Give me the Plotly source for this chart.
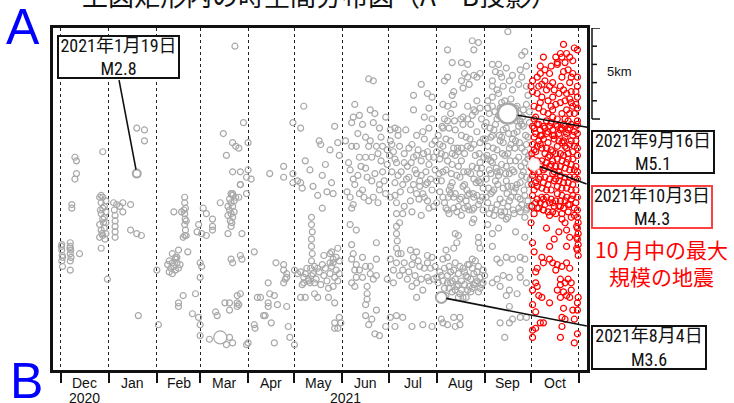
import plotly.graph_objects as go

# ---- axis data (x = days since 2020-12-01, y = km from A along A-B) ----
month_starts = [0, 31, 62, 90, 121, 151, 182, 212, 243, 274, 304, 335]
month_labels = ["Dec", "Jan", "Feb", "Mar", "Apr", "May", "Jun", "Jul", "Aug", "Sep", "Oct"]
year_labels = ["2020", "2021"]
year_label_days = [15.5, 184.3]

# ---- grey events: Dec 2020 - Feb 2021 ----
gray_dec_feb = [
    (0.5, 11.9), (0.5, 12.2), (0.8, 12.5), (0.5, 12.8), (1, 13.1), (0.3, 12.0), (1, 12.6),
    (6, 11.8), (6, 12.0), (6.3, 12.2), (6, 12.4), (6.5, 12.6), (6, 12.8), (5.8, 12.1), (12, 12.4), (6, 13.3),
    (9, 7.1), (10, 7.3), (10, 8.0), (9, 8.3), (7, 9.7), (7, 9.9), (27, 6.8),
    (25, 9.3), (26, 9.6), (27, 9.9), (26, 10.2), (27, 10.5), (25, 10.8), (26, 11.1), (27, 11.4),
    (28, 9.8), (28, 10.4), (28, 11.0), (29, 9.5), (29, 10.1), (29, 10.7), (25.5, 10.0), (27.5, 10.7),
    (26.5, 11.3), (28.5, 11.6), (26, 9.2), (29, 11.3), (25, 11.5), (26, 12.1), (27, 9.3),
    (49, 5.5), (54, 5.6), (54, 6.2),
    (35, 10.3), (35, 10.6), (35, 10.9), (35, 11.2), (35, 11.5), (34.5, 10.0), (34, 9.6), (36, 9.7),
    (40, 9.6), (45, 9.7), (40, 10.1), (38, 9.8), (45, 11.1), (49, 11.3), (52, 11.4), (30, 13.8), (50, 15.8),
    (62, 13.3), (63, 16.3),
    (69, 13.0), (70, 12.8), (71, 13.2), (72, 12.9), (73, 13.1), (74, 13.3), (75, 12.9), (76, 13.2),
    (77, 13.0), (70, 13.4), (72, 13.5), (74, 12.7), (72, 12.4), (74, 12.6), (76, 12.2), (75, 12.6), (82, 12.3),
    (80, 9.3), (80, 9.6), (80.5, 9.9), (80, 10.2), (80.3, 10.5), (80, 10.8), (80.5, 11.1), (80, 11.4),
    (79.5, 10.0), (81, 10.6), (73, 10.1), (78, 10.1), (79, 11.5), (81, 11.4),
    (79, 14.7), (76, 15.1), (76, 15.3), (85, 15.7), (87, 14.6),
]

# ---- grey events: Mar - May 2021 ----
gray_mar_may = [
    (90, 12.9), (91, 13.1), (90, 13.7), (89, 15.9), (90, 16.3), (90, 16.9),
    (92, 9.9), (94, 10.2), (89, 10.8), (88, 11.2), (91, 11.3), (94, 11.4), (98, 11.1), (98, 10.9), (98, 10.5),
    (109, 9.4), (110, 9.6), (111, 9.8), (109, 10.0), (110, 10.2), (111, 10.4), (109.5, 10.6), (110.5, 10.7),
    (112, 9.5), (112, 10.1), (108, 9.8), (108, 10.3), (111, 9.2), (110, 10.9), (103, 9.6), (111, 9.1),
    (116, 8.6), (108, 11.3), (117, 11.3),
    (110, 12.7), (111, 12.9), (116, 12.5), (117, 12.7),
    (100, 15.6), (101, 15.8), (106, 15.1), (109, 15.1), (114, 15.1), (114, 14.7), (116, 14.6), (114, 15.3),
    (115, 15.2), (109, 15.5),
    (96, 17.1), (109, 17.0), (111, 17.3), (107, 17.4), (120, 17.4), (121, 17.3),
    (112.5, 1.0), (118, 5.2), (105, 5.8), (111, 6.3), (113, 6.5), (115, 6.6), (121, 6.3), (107, 7.0),
    (111, 7.9), (116, 7.9), (121, 7.8), (120, 8.2), (123, 8.3), (116, 8.6), (110, 9.1), (113, 9.3),
    (115, 9.3), (120, 9.1),
    (135, 8.0), (144, 7.6), (144, 8.2), (150, 8.0), (150, 8.5), (150, 5.2),
    (125, 16.3), (125.5, 16.5), (127, 14.8), (129, 14.8), (131, 15.8), (132, 15.8), (134, 15.3), (134, 15.1),
    (135, 14.6), (138, 14.7), (136, 16.2), (138, 17.3), (146, 15.3), (140, 15.2), (139, 12.9), (144, 13.0),
    (144, 13.3), (146, 13.5), (134, 14.0), (144, 14.0), (147, 16.4), (125, 12.3), (145, 13.8), (146, 13.7),
    (148, 17.0), (151, 17.4),
    (157, 4.3), (155, 5.5), (167, 6.2), (168, 6.4), (177, 5.4), (179, 6.3), (175, 8.5), (172, 9.0),
    (176, 9.1), (163, 8.7), (166, 9.2), (155, 8.5), (156, 8.8), (153, 8.4), (169, 8.1), (169, 9.9),
    (158, 7.3), (161, 7.8), (171, 7.5), (180, 7.0), (174, 6.7),
    (162, 10.4), (162, 10.8), (162.5, 11.2), (162, 11.6), (162, 12.0), (162.5, 12.4), (162, 12.8),
    (161.5, 13.2), (162, 13.6),
    (155, 13.4), (157, 13.7), (159, 13.2), (160, 13.9), (163, 13.5), (164, 13.1), (165, 13.8), (167, 13.4),
    (168, 14.1), (170, 13.6), (171, 13.2), (172, 13.9), (174, 13.5), (175, 13.1), (176, 14.2), (177, 13.7),
    (178, 13.3), (179, 13.9), (180, 13.5), (156, 14.1), (158, 13.5), (161, 14.0), (166, 13.2), (169, 13.0),
    (173, 14.3), (176, 12.9), (178, 12.6), (180, 12.8), (170, 12.5), (175, 12.3),
    (151, 13.3), (153, 13.5), (157, 14.0), (160, 13.8), (164, 14.0),
    (155, 14.8), (158, 14.8), (164, 14.6), (166, 14.8), (173, 14.8), (177, 15.1),
    (174, 12.4), (179, 12.1), (174, 12.9), (176, 12.7),
    (177, 16.2), (177, 16.5), (180, 15.9), (181, 16.2), (179, 16.5),
]

# ---- grey events: Jun - Jul 2021 ----
gray_jun_jul = [
    (199, 2.8), (202, 2.9), (190, 4.2), (189, 4.9), (193, 4.8), (188, 5.2), (200, 4.5), (203, 4.7),
    (202, 5.2), (206, 5.5), (210, 4.9), (197, 6.0), (199, 6.5), (204, 6.5), (208, 6.5), (188, 6.5),
    (191, 6.5), (193, 7.1), (197, 7.1), (201, 7.1), (205, 6.9), (207, 7.3), (213, 5.6), (216, 5.5), (218, 5.6),
    (187, 9.3), (189, 9.7), (188, 9.9), (193, 9.1), (199, 9.5), (202, 9.3), (206, 8.9), (210, 9.1),
    (206, 8.6), (187, 7.8), (192, 8.1), (197, 7.7), (201, 8.4), (208, 7.9), (211, 7.5), (190, 8.6), (195, 8.9),
    (184, 6.2), (186, 7.4), (189, 8.3), (192, 5.8), (194, 7.6), (196, 9.3), (198, 8.2), (200, 6.2),
    (203, 8.0), (205, 9.6), (207, 6.0), (209, 8.4), (211, 6.7), (185, 9.0), (195, 5.3),
    (187, 10.8), (191, 11.1), (188, 11.9), (189, 12.4), (195, 12.6), (188, 12.7), (191, 13.0), (190, 13.3),
    (193, 13.3), (197, 13.1), (200, 13.1), (191, 13.7), (195, 13.7), (200, 13.5), (202, 13.8), (204, 13.6),
    (204, 12.7), (204, 11.8),
    (188, 14.0), (190, 14.2), (198, 14.2), (198, 14.6), (198, 14.9), (197, 15.2), (197, 15.8), (199, 16.3),
    (201, 16.0), (203, 16.8), (206, 16.9), (204, 15.5), (211, 13.8), (210, 16.4),
    (213, 15.9), (216, 16.4), (217, 15.8), (221, 15.9), (227, 16.4), (234, 16.3), (240, 16.4), (230, 14.8),
    (234, 14.4),
    (228, 12.6), (230, 12.3), (237, 12.5), (240, 12.6), (227, 13.0), (232, 13.1), (237, 12.9), (239, 13.2),
    (213, 12.7), (215, 13.3), (217, 12.9), (221, 13.3), (224, 13.8), (227, 14.2), (230, 14.0), (233, 13.8),
    (237, 13.7), (241, 13.8), (243, 13.7), (215, 14.0), (219, 13.6), (222, 12.9), (225, 13.4), (229, 13.6),
    (231, 12.8), (235, 13.2), (238, 13.9), (242, 13.1), (220, 12.4), (226, 12.2),
    (217, 10.9), (217, 11.3), (217.5, 11.7), (217, 12.1), (218, 12.4),
    (213, 9.3), (216, 9.2), (217, 9.6), (217, 10.2), (219, 10.7), (222, 9.8), (227, 10.1), (234, 9.1),
    (235, 9.3), (237, 9.5), (238, 9.9), (241, 9.8), (243, 9.6), (230, 9.1), (232, 8.7), (237, 8.5),
    (228, 4.5), (235, 4.9), (238, 4.4), (240, 5.0), (228, 3.7), (237, 3.6), (240, 3.8), (233, 3.1),
    (213, 6.2), (215, 6.8), (217, 7.4), (219, 6.5), (220, 7.9), (222, 6.9), (224, 7.6), (225, 8.2),
    (227, 6.4), (228, 7.1), (229, 7.8), (231, 6.7), (232, 8.4), (233, 7.3), (235, 6.1), (236, 7.9),
    (237, 6.8), (238, 7.5), (239, 8.3), (240, 6.4), (241, 7.1), (242, 7.8), (243, 6.8), (214, 7.9),
    (216, 8.5), (221, 8.6), (226, 8.9), (230, 8.0), (234, 5.7), (238, 5.5), (230, 5.9), (223, 5.6), (218, 5.9),
    (212.5, 7.0), (214, 6.4), (216, 7.2), (218, 8.1), (219.5, 9.0), (222, 7.4), (223.5, 8.3), (225, 6.6),
    (226.5, 7.4), (228, 8.6), (230, 7.0), (231.5, 9.4), (233, 8.1), (234.5, 6.9), (236, 8.6), (238, 7.1),
    (240, 8.9), (242, 6.2), (243, 8.4), (226, 9.5), (221, 10.2), (233, 10.3),
]

# ---- grey events: Aug 2021 ----
gray_aug = [
    (266, 0.7), (270, 0.8), (267, 1.2), (250, 1.2), (253, 1.9), (259, 1.9), (263, 2.0), (261, 2.5),
    (267, 2.6), (263, 2.7), (269, 2.7), (271, 2.5), (259, 2.9), (264, 3.1), (260, 3.3), (250, 2.7),
    (248, 2.9), (254, 3.5), (253, 3.7), (263, 4.3), (267, 4.5), (271, 4.4), (269, 4.0), (254, 4.2),
    (247, 4.2), (250, 4.3),
    (244, 5.9), (245, 7.2), (246, 8.4), (247, 6.5), (248, 9.6), (249, 7.8), (250, 5.1), (251, 8.9),
    (252, 6.2), (253, 7.5), (254, 9.9), (255, 5.6), (256, 8.1), (257, 6.8), (258, 9.4), (259, 7.3),
    (260, 5.3), (261, 8.6), (262, 6.0), (263, 7.9), (264, 9.1), (265, 6.6), (266, 4.8), (267, 8.3),
    (268, 7.0), (269, 5.7), (270, 9.7), (271, 6.3), (272, 7.7), (273, 8.8), (274, 5.4), (245, 9.0),
    (247, 7.9), (249, 6.1), (251, 5.5), (253, 8.5), (255, 7.0), (257, 9.8), (259, 5.9), (261, 6.9),
    (263, 5.0), (265, 8.0), (267, 6.4), (269, 9.2), (271, 7.4), (273, 6.1), (246, 6.9), (250, 7.3),
    (254, 6.6), (258, 8.2), (262, 9.5), (266, 7.6), (270, 8.4), (248, 5.0), (256, 10.1), (264, 10.0),
    (252, 4.7), (260, 4.9), (268, 4.6), (272, 5.0),
    (244.5, 8.0), (246.5, 5.4), (248.5, 7.0), (250.5, 9.3), (252.5, 8.0), (254.5, 5.1), (256.5, 6.6),
    (258.5, 5.0), (260.5, 7.9), (262.5, 8.9), (264.5, 6.1), (266.5, 9.1), (268.5, 8.5), (270.5, 6.9),
    (272.5, 9.3), (273.5, 7.1), (245, 6.4), (249, 9.9), (253, 6.9), (257, 7.6), (261, 9.9), (265, 5.3),
    (269, 7.7), (273, 10.0), (251, 10.2), (259, 10.3), (267, 9.9), (255, 9.1), (263, 6.5), (271, 8.0),
    (247, 5.5), (259, 6.6),
    (249, 12.2), (254, 12.1), (247, 12.7), (250, 12.6), (255, 11.3), (257, 11.4), (256, 11.8), (266, 10.7),
    (267, 10.5), (270, 11.5), (270, 11.8), (271, 12.1),
    (246, 16.0), (247, 16.2), (250, 16.3), (255, 16.4), (258, 16.3), (258, 15.9), (254, 15.9),
    (247, 9.3), (252, 9.1), (254, 9.3), (259, 9.3), (263, 9.2), (267, 9.3), (271, 9.5), (263, 9.8),
    (266, 10.0), (250, 10.0), (260, 8.7), (271, 8.5), (252, 8.7),
    (245, 13.4), (247, 13.9), (248, 14.3), (250, 13.6), (251, 13.1), (252, 14.0), (253, 14.5), (254, 13.3),
    (255, 13.8), (256, 14.2), (257, 13.5), (258, 14.6), (259, 13.9), (260, 13.2), (261, 14.1), (262, 13.6),
    (263, 14.4), (264, 13.0), (265, 13.8), (266, 14.3), (267, 13.5), (268, 14.0), (269, 13.4), (270, 14.5),
    (271, 13.7), (272, 14.1), (273, 13.3), (249, 14.7), (257, 14.8), (263, 13.0), (266, 12.7), (244, 14.0),
    (262, 14.8), (255, 12.9), (268, 12.8),
    (246, 13.6), (248, 13.2), (251, 14.3), (253, 13.9), (255, 14.4), (257, 14.1), (259, 14.4), (261, 13.4),
    (263, 13.7), (265, 14.5), (267, 14.1), (269, 13.9), (271, 14.3), (273, 14.0), (250, 14.0), (258, 13.1),
    (264, 14.2), (270, 13.1), (252, 13.4), (274, 13.6), (260, 14.8), (266, 13.2),
]

# ---- grey events: Sep 2021 ----
gray_sep = [
    (279, 2.0), (283, 2.0), (281, 2.4), (284, 2.5), (288, 2.2), (292, 2.6), (279, 2.9), (285, 2.7),
    (290, 2.9), (297, 2.3), (301, 2.1), (298, 2.7), (279, 3.2), (282, 3.4), (286, 3.2), (292, 3.4),
    (296, 3.1), (301, 3.2), (302, 3.7), (276, 4.4), (279, 4.3), (289, 0.2), (300, 1.3), (298, 1.5),
    (275, 5.2), (276, 6.5), (277, 7.8), (278, 9.1), (279, 5.9), (280, 7.1), (281, 8.4), (282, 9.7),
    (283, 4.8), (284, 6.2), (285, 7.5), (286, 8.8), (287, 10.1), (288, 5.5), (289, 6.9), (290, 8.0),
    (291, 9.3), (292, 4.5), (293, 5.8), (294, 7.3), (295, 8.6), (296, 9.9), (297, 5.1), (298, 6.6),
    (299, 7.9), (300, 9.2), (301, 4.2), (302, 6.0), (303, 7.6), (275, 8.3), (276, 9.6), (277, 4.7),
    (278, 6.0), (279, 7.4), (280, 8.9), (281, 5.3), (282, 6.7), (283, 8.1), (284, 9.4), (285, 4.1),
    (286, 5.6), (287, 7.0), (288, 8.4), (289, 9.8), (290, 5.0), (291, 6.4), (292, 7.8), (293, 9.0),
    (294, 4.4), (295, 5.7), (296, 7.1), (297, 8.5), (298, 9.7), (299, 5.4), (300, 6.8), (301, 8.2),
    (302, 9.5), (303, 5.2), (276, 7.2), (278, 8.0), (280, 5.6), (282, 5.0), (284, 7.9), (286, 6.3),
    (288, 7.6), (290, 9.5), (292, 6.1), (294, 8.8), (296, 5.4), (298, 8.1), (300, 7.4), (302, 8.6),
    (277, 10.2), (281, 10.0), (285, 10.3), (289, 10.4), (293, 10.2), (297, 10.1), (301, 10.0),
    (279, 3.8), (283, 3.6), (287, 4.0), (291, 3.9), (295, 4.3), (299, 4.5), (303, 4.6),
    (274.5, 6.1), (275.5, 7.0), (276.5, 8.8), (277.5, 5.5), (278.5, 9.9), (279.5, 6.6), (280.5, 4.6),
    (281.5, 7.7), (282.5, 8.6), (283.5, 5.9), (284.5, 10.1), (285.5, 6.9), (286.5, 4.7), (287.5, 8.0),
    (288.5, 9.1), (289.5, 5.8), (290.5, 7.3), (291.5, 8.7), (292.5, 10.0), (293.5, 6.6), (294.5, 5.1),
    (295.5, 9.3), (296.5, 6.3), (297.5, 7.6), (298.5, 4.9), (299.5, 8.9), (300.5, 5.9), (301.5, 9.9),
    (302.5, 7.0), (303.5, 8.3), (276, 4.0), (280, 10.3), (284, 4.4), (288, 10.5), (296, 4.7), (300, 10.4),
    (303, 9.8), (278, 7.3), (282, 7.9), (286, 9.6), (290, 6.6), (294, 6.2), (298, 5.3), (302, 7.2),
    (285, 6.0), (289, 8.7), (293, 7.9), (297, 9.4), (301, 6.4), (275, 9.3), (279, 9.0),
    (276, 10.8), (283, 11.0), (294, 11.2), (300, 11.5),
    (279, 11.3), (279, 12.0), (282, 12.7), (284, 12.9), (288, 12.6), (292, 12.7), (297, 12.6), (300, 12.7),
    (286, 13.6), (290, 13.7), (297, 13.7), (301, 14.0), (290, 14.4), (295, 14.6), (288, 14.7), (279, 14.0),
    (284, 14.2), (282, 13.8), (297, 13.3), (290, 15.3),
    (284, 16.2), (290, 16.2), (297, 15.9), (301, 15.9), (292, 16.0), (287, 17.0),
]

# ---- red events: Oct 2021 ----
red_oct_upper = [
    (325, 0.9), (323, 1.4), (320, 1.6), (324, 1.6), (329, 1.6), (312, 1.6), (334, 1.2), (332, 1.1),
    (326, 1.9), (321, 2.0), (313, 2.3), (316, 2.5), (310, 2.5), (308, 2.7), (305, 2.9), (328, 2.3),
    (331, 2.5), (334, 2.7), (318, 3.0), (324, 2.7), (329, 3.0), (334, 3.2), (304, 3.2), (311, 3.1),
    (314, 3.4), (308, 3.6), (318, 3.8), (327, 3.6), (334, 3.8), (310, 4.1), (323, 4.1), (330, 4.1),
    (334, 4.4), (312, 4.6), (318, 4.5), (327, 4.5), (332, 4.7), (307, 4.9), (314, 5.1), (321, 5.0),
    (328, 5.1), (334, 5.1),
    (321, 1.9), (330, 2.7), (310, 2.1), (316, 3.2), (325, 3.4), (330, 3.5), (305, 3.5), (315, 4.0),
    (326, 4.0), (309, 4.4), (324, 4.7), (331, 4.3), (318, 4.9),
    (306, 4.3), (309, 3.2), (313, 2.9), (317, 2.1), (319, 3.4), (322, 3.6), (325, 2.4), (327, 1.4),
    (329, 4.7), (333, 3.5), (331, 1.8), (315, 4.7), (320, 4.2), (311, 3.8), (323, 3.2), (306, 5.0),
    (326, 5.0), (333, 4.2), (317, 4.3), (329, 3.9),
]
red_oct_dense = [
    (305, 5.4), (307, 5.8), (309, 5.3), (311, 5.9), (313, 5.5), (315, 5.7), (317, 5.2), (319, 5.9),
    (321, 5.4), (323, 5.6), (325, 5.3), (327, 5.8), (329, 5.5), (331, 5.9), (333, 5.4), (306, 6.0),
    (310, 5.6), (318, 5.6), (326, 6.0), (334, 5.8),
    (305, 6.4), (307, 6.8), (309, 6.2), (311, 6.6), (313, 6.9), (315, 6.3), (317, 6.7), (319, 6.1),
    (321, 6.5), (323, 6.9), (325, 6.2), (327, 6.6), (329, 6.4), (331, 6.8), (333, 6.2), (334, 6.6),
    (308, 6.5), (312, 6.1), (316, 7.0), (320, 6.9), (324, 6.3), (328, 6.9), (332, 6.5),
    (305, 7.2), (307, 7.6), (309, 7.9), (311, 7.3), (313, 7.7), (315, 7.1), (317, 7.5), (319, 7.9),
    (321, 7.2), (323, 7.6), (325, 7.0), (327, 7.4), (329, 7.8), (331, 7.2), (333, 7.6), (334, 7.9),
    (306, 7.9), (310, 7.5), (314, 7.4), (318, 7.3), (322, 7.9), (326, 7.7), (330, 7.5),
    (305, 8.1), (307, 8.5), (309, 8.3), (311, 8.8), (313, 8.2), (315, 8.6), (317, 8.9), (319, 8.4),
    (321, 8.7), (323, 8.1), (325, 8.5), (327, 8.8), (329, 8.2), (331, 8.6), (333, 8.9), (334, 8.3),
    (306, 8.9), (310, 8.2), (314, 8.9), (318, 8.0), (322, 8.4), (326, 8.2), (330, 8.9),
    (305, 9.2), (307, 9.6), (309, 9.9), (311, 9.3), (313, 9.7), (315, 10.1), (317, 9.4), (319, 9.8),
    (321, 9.1), (323, 9.5), (325, 9.9), (327, 9.3), (329, 9.7), (331, 9.2), (333, 9.6), (334, 10.0),
    (306, 10.2), (308, 9.4), (312, 10.0), (316, 9.6), (320, 10.2), (324, 9.2), (328, 10.1), (332, 9.9),
    (306, 5.5), (308, 5.3), (310, 5.9), (312, 5.4), (314, 5.8), (316, 5.4), (318, 5.9), (320, 5.3),
    (322, 5.8), (324, 5.5), (326, 5.4), (328, 5.6), (330, 5.3), (332, 5.7), (334, 5.3),
    (306, 6.7), (310, 6.4), (314, 6.6), (318, 6.8), (322, 6.2), (326, 6.5), (330, 6.2), (334, 7.0),
    (304.5, 6.9), (308, 7.3), (312, 7.8), (316, 7.6), (320, 7.6), (324, 7.3), (328, 7.2), (332, 7.8),
    (304.5, 7.7), (308, 8.7), (312, 8.5), (316, 8.3), (320, 8.3), (324, 8.8), (328, 8.5), (332, 8.2),
    (304.5, 8.6), (308, 9.9), (310, 9.6), (314, 9.3), (318, 9.6), (322, 9.8), (326, 9.5), (330, 9.4),
    (334, 9.3), (304.5, 9.8), (312, 9.4), (320, 9.5), (328, 9.7), (316, 10.3), (324, 10.2), (332, 10.3),
]
red_oct_lower = [
    (304, 10.7), (312, 10.0), (318, 10.1), (323, 9.8), (330, 10.4), (326, 10.7), (327, 11.1), (329, 11.5),
    (327, 12.0), (324, 10.5),
    (334, 10.4), (334.5, 10.7), (334, 11.0), (334.5, 11.3), (334, 11.6), (334.5, 11.9), (334, 12.2),
    (334.5, 12.5), (333.5, 10.9), (333.5, 11.5), (333.5, 12.1),
    (311, 12.6), (312, 12.9), (316, 12.7), (318, 12.9), (321, 13.0), (324, 13.1), (327, 12.9), (329, 13.2),
    (320, 13.3), (308, 13.2), (307, 13.4),
    (307, 14.0), (308, 14.2), (305, 14.4), (309, 14.7), (311, 14.8), (323, 13.8), (326, 14.0), (328, 13.8),
    (330, 14.0), (323, 14.1), (321, 14.4), (325, 14.5), (327, 14.7), (323, 14.8), (329, 14.8), (330, 14.4),
    (334.5, 14.8), (334, 15.1), (334, 15.5), (331, 15.5), (305, 15.2), (307, 15.6), (316, 15.1), (325, 15.4),
    (312, 16.2), (310, 16.2), (324, 15.9), (326, 16.0), (332, 16.0), (324, 16.4), (305, 17.0), (334, 16.8),
    (323, 17.0), (332, 17.3), (305, 16.6), (307, 16.5),
    (305, 11.8), (306, 12.3), (314, 11.0), (319, 11.6), (322, 11.2), (316, 12.0),
]

# ---- highlighted events ----
ev_jan19 = (49, 8.0)      # 2021-01-19 M2.8
ev_mar_big = (103, 17.0)  # larger March event
ev_aug04 = (246, 14.8)    # 2021-08-04 M3.6
ev_sep16 = (289, 4.7)     # 2021-09-16 M5.1
ev_oct03 = (306, 7.5)     # 2021-10-03 M4.3

# ---------------- figure ----------------
W, H = 734, 403
L, R, T, B = 53, 147, 28, 33
PW, PH = W - L - R, H - T - B


def px_x(x):
    return (x - L) / PW


def px_y(y):
    return (H - B - y) / PH


GRAY = "#a8a8a8"
RED = "#ff0000"
fig = go.Figure()


def add_pts(pts, color):
    fig.add_trace(go.Scatter(
        x=[p[0] for p in pts], y=[p[1] for p in pts], mode="markers",
        marker=dict(symbol="circle-open", size=6, color=color, line=dict(width=1.2)),
        hoverinfo="skip", showlegend=False))


for grp in (gray_dec_feb, gray_mar_may, gray_jun_jul, gray_aug, gray_sep):
    add_pts(grp, GRAY)
for grp in (red_oct_upper, red_oct_dense, red_oct_lower):
    add_pts(grp, RED)


def add_event(ev, size, fill, line_color, line_width, symbol="circle"):
    fig.add_trace(go.Scatter(
        x=[ev[0]], y=[ev[1]], mode="markers",
        marker=dict(symbol=symbol, size=size, color=fill,
                    line=dict(color=line_color, width=line_width)),
        hoverinfo="skip", showlegend=False))


add_event(ev_jan19, 8, "rgba(0,0,0,0)", GRAY, 2)
add_event(ev_mar_big, 13, "rgba(0,0,0,0)", GRAY, 1.2)
add_event(ev_aug04, 11, "white", GRAY, 2)
add_event(ev_sep16, 20, "white", GRAY, 2.5)
add_event(ev_oct03, 12, "white", "#ffd6d6", 1)

ann = []
LABFONT = dict(size=14, color="#111", family="Liberation Sans")
for i, lab in enumerate(month_labels):
    mid = (month_starts[i] + month_starts[i + 1]) / 2
    ann.append(dict(x=mid, y=px_y(383), xref="x", yref="paper", text=lab, showarrow=False,
                    xanchor="center", yanchor="middle", font=LABFONT))
for lab, d in zip(year_labels, year_label_days):
    ann.append(dict(x=d, y=px_y(398), xref="x", yref="paper", text=lab, showarrow=False,
                    xanchor="center", yanchor="middle", font=LABFONT))

# A / B labels
ann.append(dict(x=px_x(23), y=px_y(27), xref="paper", yref="paper", text="A", showarrow=False,
                xanchor="center", yanchor="middle",
                font=dict(size=50, color="#0000ff", family="Liberation Sans")))
ann.append(dict(x=px_x(26), y=px_y(381), xref="paper", yref="paper", text="B", showarrow=False,
                xanchor="center", yanchor="middle",
                font=dict(size=50, color="#0000ff", family="Liberation Sans")))

# title (cut off at top)
ann.append(dict(x=px_x(319), y=px_y(-5), xref="paper", yref="paper",
                text="上図矩形内の時空間分布図（A－B投影）", showarrow=False,
                xanchor="center", yanchor="middle",
                font=dict(size=26, color="#111", family="Noto Sans CJK JP")))

BOXFONT = dict(size=18, color="#111",
               family="Liberation Sans Narrow, Roboto Condensed, Liberation Sans, Noto Sans CJK JP")


def box(cx, cy, w, h, text, border):
    ann.append(dict(x=px_x(cx), y=px_y(cy), xref="paper", yref="paper", text=text, showarrow=False,
                    xanchor="center", yanchor="middle",
                    width=w, height=h, bgcolor="white", bordercolor=border, borderwidth=2,
                    borderpad=0, align="center", valign="middle", font=BOXFONT))


box(118.5, 57, 119, 40, "2021年1月19日<br>M2.8", "#111")
box(653, 152, 120, 40, "2021年9月16日<br>M5.1", "#111")
box(652, 207, 118, 40, "2021年10月3日<br>M4.3", "#ff4040")
box(649, 347.5, 112, 41, "2021年8月4日<br>M3.6", "#111")

ann.append(dict(x=px_x(661), y=px_y(262.5), xref="paper", yref="paper",
                text="10 月中の最大<br>規模の地震", showarrow=False, align="center",
                xanchor="center", yanchor="middle",
                font=dict(size=21, color="#ff0000", family="Noto Sans CJK JP")))


def leader(ev, ax, ay, standoff):
    ann.append(dict(x=ev[0], y=ev[1], xref="x", yref="y", text="", showarrow=True,
                    arrowhead=0, arrowwidth=1.6, arrowcolor="#111", ax=ax, ay=ay,
                    standoff=standoff))


leader(ev_jan19, -18, -95, 4)
leader(ev_sep16, 81, 14, 10)
leader(ev_oct03, 54, 20, 6)
leader(ev_aug04, 147, 29, 5)

# 5 km scale label
ann.append(dict(x=px_x(605), y=2.4, xref="paper", yref="y", text="5km", showarrow=False,
                xanchor="left", yanchor="middle",
                font=dict(size=13, color="#111", family="Liberation Sans")))

shapes = []
shapes.append(dict(type="line", xref="paper", yref="y", x0=px_x(592), x1=px_x(592), y0=0, y1=5,
                   line=dict(color="#111", width=1.5)))
for k in range(6):
    xe = 600 if k in (0, 5) else 597
    shapes.append(dict(type="line", xref="paper", yref="y", x0=px_x(592), x1=px_x(xe), y0=k, y1=k,
                       line=dict(color="#111", width=1.5)))

fig.update_layout(
    width=W, height=H, margin=dict(l=L, r=R, t=T, b=B),
    paper_bgcolor="white", plot_bgcolor="white",
    showlegend=False,
    xaxis=dict(range=[-5.17, 340.2], tickvals=month_starts, ticktext=[""] * len(month_starts),
               ticks="outside", ticklen=10, tickwidth=1.5, tickcolor="#111",
               showgrid=True, gridcolor="#222", griddash="dot", gridwidth=1.4,
               zeroline=False, showline=True, mirror=True, linecolor="#111", linewidth=2.5),
    yaxis=dict(range=[18.79, 0], showticklabels=False, ticks="", showgrid=False, zeroline=False,
               showline=True, mirror=True, linecolor="#111", linewidth=2.5),
    annotations=ann, shapes=shapes,
)

fig.write_html("out.html", config={"displayModeBar": False},
               post_script="document.body.style.margin='0';")
